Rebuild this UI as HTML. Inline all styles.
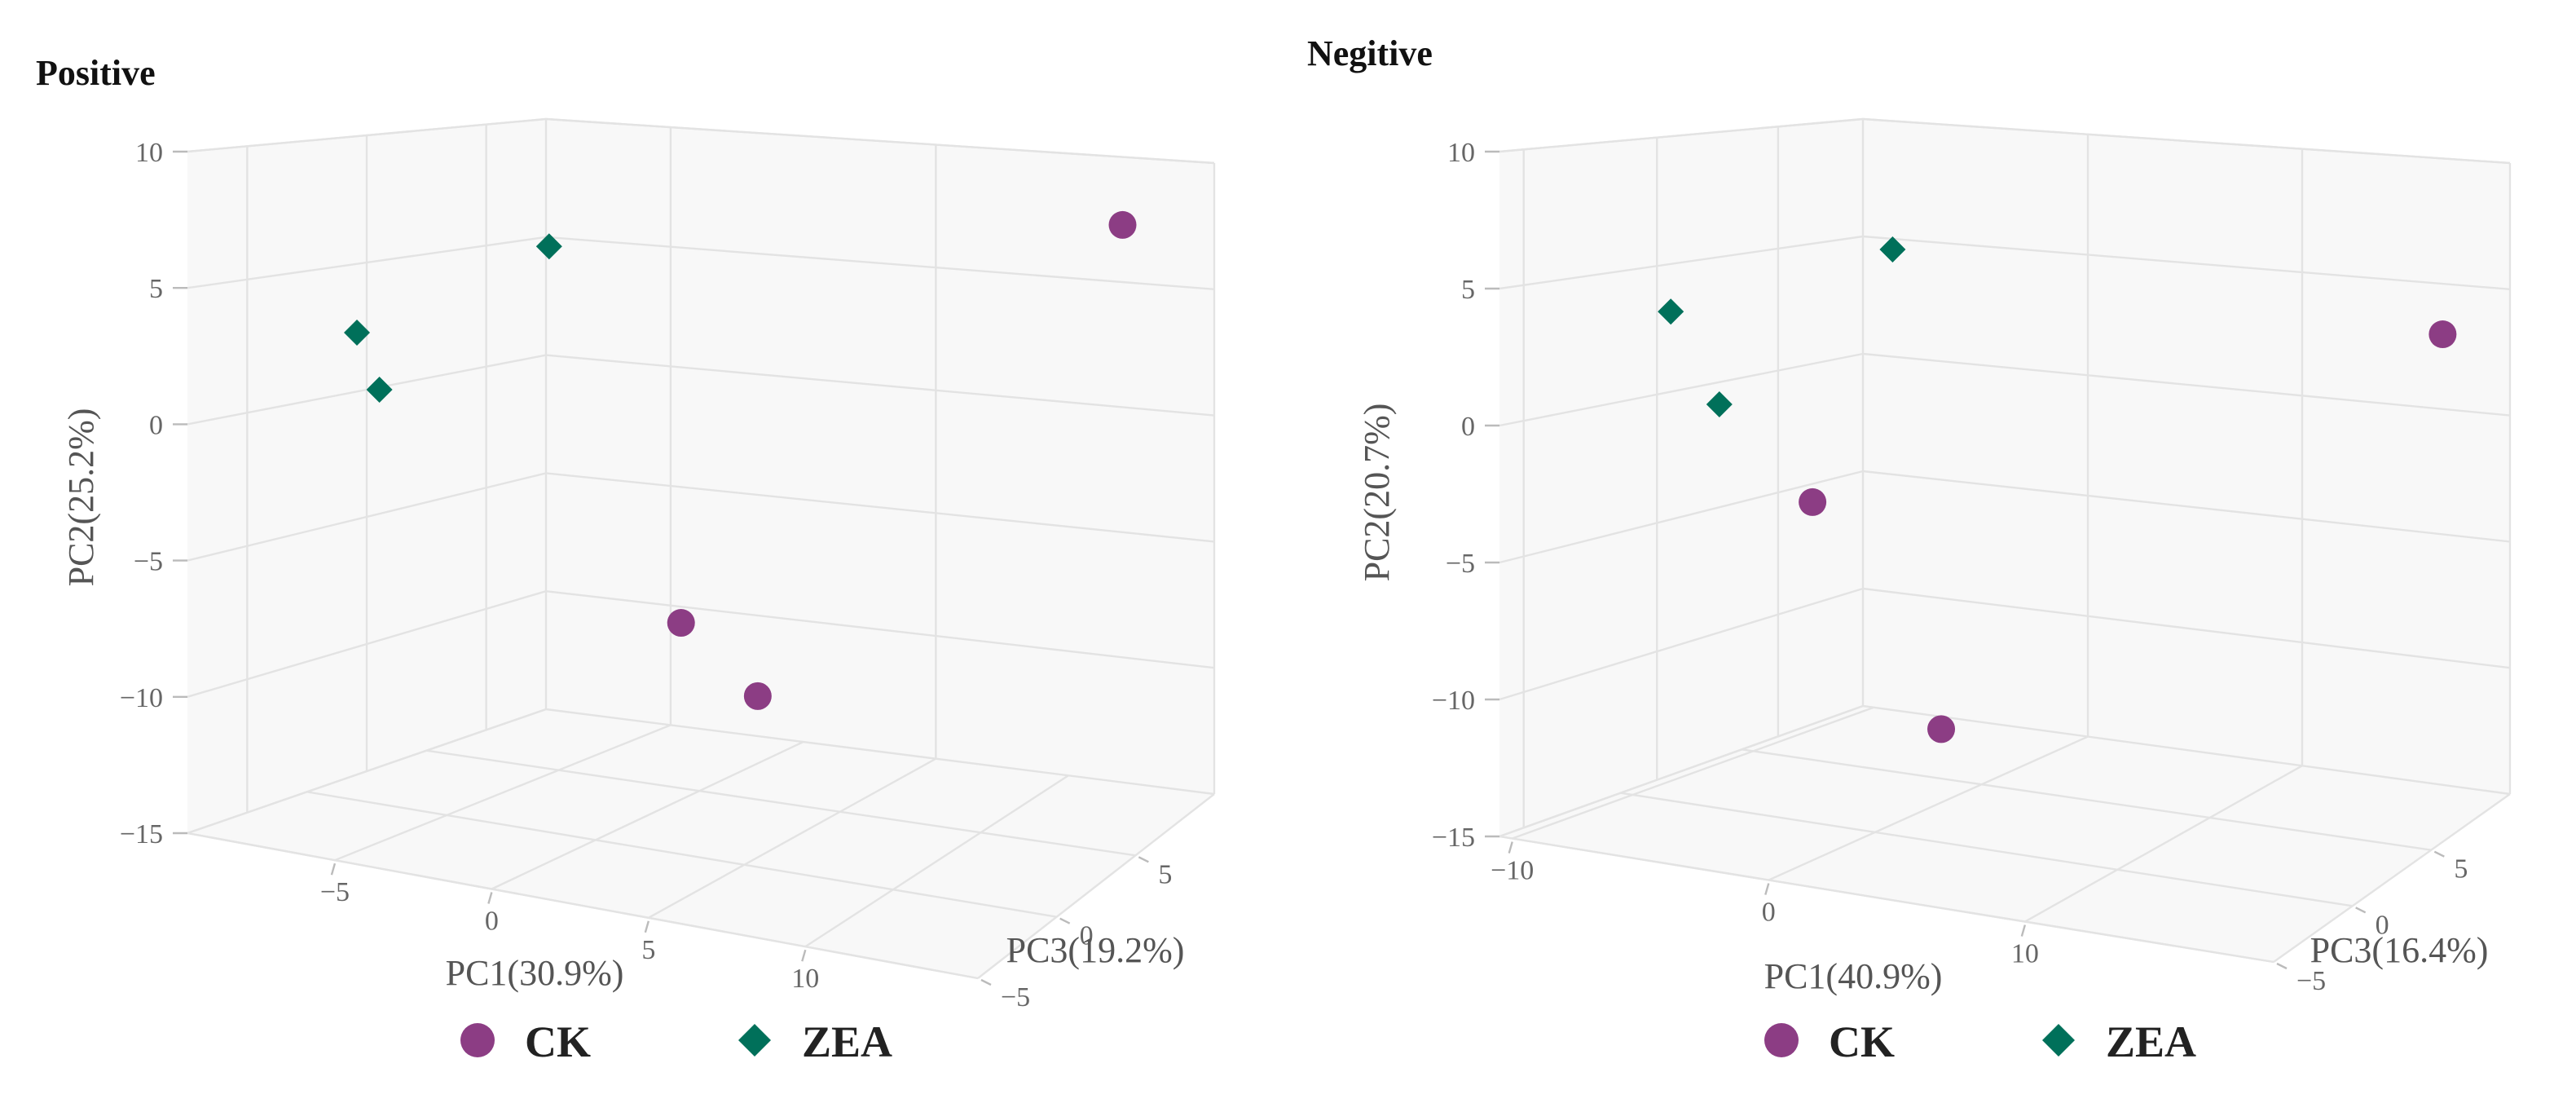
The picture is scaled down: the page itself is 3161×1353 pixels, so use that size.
<!DOCTYPE html>
<html><head><meta charset="utf-8"><style>
html,body{margin:0;padding:0;background:#fff;}
svg{display:block;}
text{font-family:"Liberation Serif",serif;}
</style></head><body>
<svg id="fig" width="3161" height="1353" viewBox="0 0 1580.5 676.5" xmlns="http://www.w3.org/2000/svg">
<rect x="0" y="0" width="1580.5" height="676.5" fill="#fff"/>
<g id="pos"></g>
<g id="neg"></g>
</svg>
<script>
// ---- data ----
const groups = ["CK", "ZEA"];
const posCK_PC1 = [12.98, 2.2, 5.77];
const posCK_PC2 = [7.7, -6.84, -8.5];
const posCK_PC3 = [8.5, 1, -0.5];
const posZEA_PC1 = [-6.98, -7.63, -6.88];
const posZEA_PC2 = [5.31, 3.0, 0.94];
const posZEA_PC3 = [7, -0.5, -0.5];
const negCK_PC1 = [17.7, -4.92, 3.15];
const negCK_PC2 = [3.47, -3.77, -10.54];
const negCK_PC3 = [8.5, 2.5, -0.5];
const negZEA_PC1 = [-5.9, -9.42, -7.39];
const negZEA_PC2 = [5.28, 3.42, 0.06];
const negZEA_PC3 = [7, 1, 1];
const pc2Ticks = [10, 5, 0, -5, -10, -15];
const posPC1Ticks = [-5, 0, 5, 10];
const negPC1Ticks = [-10, 0, 10];
const pc3Ticks = [5, 0, -5];
const posPC1Grid = [-5, 5];
const negPC1Grid = [0, 10];
const posPC3Grid = [-2.5, 2.5, 7.5];
const negPC3Grid = [-4, 1.5, 6.5];

const NS = "http://www.w3.org/2000/svg";
const colCK = "#8c3d84", colZEA = "#00705a";

function mk(parent, tag, attrs, txt) {
  const e = document.createElementNS(NS, tag);
  for (const k in attrs) e.setAttribute(k, attrs[k]);
  if (txt !== undefined) e.textContent = txt;
  parent.appendChild(e);
  return e;
}

function bil(c, u, w) {
  // c = [frontLeft, frontRight, backLeft, backRight]
  const f = c[0] + (c[1] - c[0]) * u;
  const b = c[2] + (c[3] - c[2]) * u;
  return f + (b - f) * w;
}

function makeProj(p) {
  return function (x1, x2, x3) {
    const u = (x1 - p.u0) / (p.u1 - p.u0);
    const w = (x3 - p.w0) / (p.w1 - p.w0);
    const v = (x2 - p.v0) / (p.v1 - p.v0);
    const X = bil(p.xb, u, w);
    const yb = bil(p.yb, u, w), yt = bil(p.yt, u, w);
    return [X, yb + (yt - yb) * v];
  };
}

function drawPanel(g, p, d) {
  const P = makeProj(p);
  const gridC = "#e3e3e3", wallC = "#f8f8f8";
  const poly = pts => pts.map(q => q[0].toFixed(1) + "," + q[1].toFixed(1)).join(" ");
  // walls
  let e;
  e = mk(g, "polygon", {points: poly([P(p.u0,p.v0,p.w0),P(p.u0,p.v0,p.w1),P(p.u0,p.v1,p.w1),P(p.u0,p.v1,p.w0)]), fill: wallC});
  
  
  e = mk(g, "polygon", {points: poly([P(p.u0,p.v0,p.w1),P(p.u1,p.v0,p.w1),P(p.u1,p.v1,p.w1),P(p.u0,p.v1,p.w1)]), fill: wallC});
  
  
  e = mk(g, "polygon", {points: poly([P(p.u0,p.v0,p.w0),P(p.u1,p.v0,p.w0),P(p.u1,p.v0,p.w1),P(p.u0,p.v0,p.w1)]), fill: wallC});
  
  
  const line = (a, b, name, col, sw) => {
    const l = mk(g, "line", {x1: a[0], y1: a[1], x2: b[0], y2: b[1], stroke: col || gridC, "stroke-width": sw || 1.2});
    
    
  };
  // PC2 horizontal grid on left & back walls
  pc2Ticks.forEach(t => {
    line(P(p.u0,t,p.w0), P(p.u0,t,p.w1), "pc2-grid-left");
    line(P(p.u0,t,p.w1), P(p.u1,t,p.w1), "pc2-grid-back");
  });
  // back corner verticals
  line(P(p.u0,p.v0,p.w1), P(p.u0,p.v1,p.w1), "corner-edge");
  line(P(p.u1,p.v0,p.w1), P(p.u1,p.v1,p.w1), "back-right-edge");
  line(P(p.u0,p.v1,p.w0), P(p.u0,p.v1,p.w1), "top-left-edge");
  line(P(p.u0,p.v1,p.w1), P(p.u1,p.v1,p.w1), "top-back-edge");
  // PC1 grid on back wall and floor
  d.pc1Grid.forEach(t => {
    line(P(t,p.v0,p.w1), P(t,p.v1,p.w1), "pc1-grid-back");
  });
  d.pc1Ticks.forEach(t => {
    line(P(t,p.v0,p.w0), P(t,p.v0,p.w1), "pc1-grid-floor");
  });
  // PC3 grid on left wall and floor
  d.pc3Grid.forEach(t => {
    line(P(p.u0,p.v0,t), P(p.u0,p.v1,t), "pc3-grid-left");
  });
  pc3Ticks.forEach(t => {
    line(P(p.u0,p.v0,t), P(p.u1,p.v0,t), "pc3-grid-floor");
  });
  line(P(p.u0,p.v0,p.w0), P(p.u0,p.v0,p.w1), "floor-left-edge");
  line(P(p.u0,p.v0,p.w0), P(p.u1,p.v0,p.w0), "floor-front-edge");
  line(P(p.u1,p.v0,p.w0), P(p.u1,p.v0,p.w1), "floor-right-edge");

  // PC2 ticks
  pc2Ticks.forEach(t => {
    const q = P(p.u0, t, p.w0);
    line([q[0]-9, q[1]], [q[0], q[1]], "pc2-tick", "#bbb", 1.2);
    const tx = mk(g, "text", {x: q[0]-15, y: q[1]+6, "text-anchor": "end", "font-size": 17, fill: "#666"}, t < 0 ? "\u2212" + (-t) : String(t));
    
    
  });
  // PC1 ticks
  d.pc1Ticks.forEach(t => {
    const q = P(t, p.v0, p.w0);
    line([q[0], q[1]+2], [q[0]-2, q[1]+9], "pc1-tick", "#bbb", 1.2);
    const tx = mk(g, "text", {x: q[0], y: q[1]+25, "text-anchor": "middle", "font-size": 17, fill: "#666"}, t < 0 ? "\u2212" + (-t) : String(t));
    
    
  });
  // PC3 ticks
  pc3Ticks.forEach(t => {
    const q = P(p.u1, p.v0, t);
    line([q[0]+2, q[1]+1], [q[0]+8, q[1]+4], "pc3-tick", "#bbb", 1.2);
    const tx = mk(g, "text", {x: q[0]+14, y: q[1]+17, "text-anchor": "start", "font-size": 17, fill: "#666"}, t < 0 ? "\u2212" + (-t) : String(t));
    
    
  });

  // axis titles
  let t;
  t = mk(g, "text", {x: d.pc1Title[0], y: d.pc1Title[1], "font-size": 22, fill: "#555", "text-anchor": "middle"}, d.pc1Label);
  
  
  t = mk(g, "text", {x: d.pc3Title[0], y: d.pc3Title[1], "font-size": 22, fill: "#555", "text-anchor": "middle"}, d.pc3Label);
  
  
  t = mk(g, "text", {x: 0, y: 0, "font-size": 22, fill: "#555", "text-anchor": "middle", transform: "translate(" + d.pc2Title[0] + "," + d.pc2Title[1] + ") rotate(-90)"}, d.pc2Label);
  
  
  t = mk(g, "text", {x: d.title[0], y: d.title[1], "font-size": 22, fill: "#111", "font-weight": "bold"}, d.titleText);
  
  

  // points
  for (let i = 0; i < d.zea1.length; i++) {
    const q = P(d.zea1[i], d.zea2[i], d.zea3[i]);
    const s = 8;
    const m = mk(g, "polygon", {points: poly([[q[0], q[1]-s],[q[0]+s, q[1]],[q[0], q[1]+s],[q[0]-s, q[1]]]), fill: colZEA});
    
    
  }
  for (let i = 0; i < d.ck1.length; i++) {
    const q = P(d.ck1[i], d.ck2[i], d.ck3[i]);
    const m = mk(g, "circle", {cx: q[0], cy: q[1], r: 8.5, fill: colCK});
    
    
  }

  // legend
  const lx = d.legend[0], ly = d.legend[1];
  let c = mk(g, "circle", {cx: lx, cy: ly, r: 10.5, fill: colCK});
  
  
  t = mk(g, "text", {x: lx+29, y: ly+10, "font-size": 27, "font-weight": "bold", fill: "#222"}, groups[0]);
  
  
  const dx = lx + 170, s2 = 10;
  c = mk(g, "polygon", {points: poly([[dx, ly-s2],[dx+s2, ly],[dx, ly+s2],[dx-s2, ly]]), fill: colZEA});
  
  
  t = mk(g, "text", {x: dx+29, y: ly+10, "font-size": 27, "font-weight": "bold", fill: "#222"}, groups[1]);
  
  
}

drawPanel(document.getElementById("pos"),
  {u0: -9.7, u1: 15.5, v0: -15, v1: 10, w0: -5, w1: 10,
   xb: [115, 600, 335, 745], yb: [511, 600, 435, 487], yt: [93, 150, 73, 100]},
  {ck1: posCK_PC1, ck2: posCK_PC2, ck3: posCK_PC3,
   zea1: posZEA_PC1, zea2: posZEA_PC2, zea3: posZEA_PC3,
   pc1Ticks: posPC1Ticks, pc1Grid: posPC1Grid, pc3Grid: posPC3Grid,
   pc1Label: "PC1(30.9%)", pc2Label: "PC2(25.2%)", pc3Label: "PC3(19.2%)",
   pc1Title: [328, 604], pc3Title: [672, 590], pc2Title: [57, 305],
   title: [22, 52], titleText: "Positive", legend: [293, 638]});

drawPanel(document.getElementById("neg"),
  {u0: -10.5, u1: 19.7, v0: -15, v1: 10, w0: -5, w1: 10,
   xb: [920, 1395, 1143, 1540], yb: [513, 590, 433, 487], yt: [93, 150, 73, 100]},
  {ck1: negCK_PC1, ck2: negCK_PC2, ck3: negCK_PC3,
   zea1: negZEA_PC1, zea2: negZEA_PC2, zea3: negZEA_PC3,
   pc1Ticks: negPC1Ticks, pc1Grid: negPC1Grid, pc3Grid: negPC3Grid,
   pc1Label: "PC1(40.9%)", pc2Label: "PC2(20.7%)", pc3Label: "PC3(16.4%)",
   pc1Title: [1137, 606], pc3Title: [1472, 590], pc2Title: [852, 302],
   title: [802, 40], titleText: "Negitive", legend: [1093, 638]});
</script>
</body></html>
